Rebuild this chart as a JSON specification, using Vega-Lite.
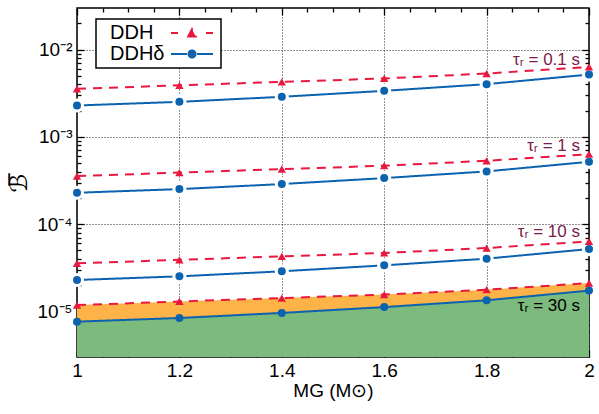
{
  "$schema": "https://vega.github.io/schema/vega-lite/v6.json",
  "autosize": "none",
  "width": 512,
  "height": 349,
  "padding": {"left": 77, "top": 8, "right": 10, "bottom": 57},
  "background": "white",
  "config": {
    "font": "Liberation Sans",
    "view": {"stroke": "black", "strokeWidth": 1.5},
    "axis": {"domain": false, "labelColor": "black", "labelFontSize": 19, "titleFontSize": 19, "titleFontWeight": "normal", "titleColor": "black", "tickColor": "black", "tickWidth": 1.3, "zindex": 1, "gridColor": "#222", "gridDash": [1, 2], "gridWidth": 1, "labelFlush": false, "labelOverlap": false}
  },
  "datasets": {
    "lines": [
      {"x": 1, "tau": 0.1, "series": "DDH", "v": 0.00355}, {"x": 1.2, "tau": 0.1, "series": "DDH", "v": 0.0039}, {"x": 1.4, "tau": 0.1, "series": "DDH", "v": 0.00427}, {"x": 1.6, "tau": 0.1, "series": "DDH", "v": 0.00467}, {"x": 1.8, "tau": 0.1, "series": "DDH", "v": 0.00532}, {"x": 2, "tau": 0.1, "series": "DDH", "v": 0.00633},
      {"x": 1, "tau": 0.1, "series": "DDHδ", "v": 0.00229}, {"x": 1.2, "tau": 0.1, "series": "DDHδ", "v": 0.00252}, {"x": 1.4, "tau": 0.1, "series": "DDHδ", "v": 0.00288}, {"x": 1.6, "tau": 0.1, "series": "DDHδ", "v": 0.00337}, {"x": 1.8, "tau": 0.1, "series": "DDHδ", "v": 0.00402}, {"x": 2, "tau": 0.1, "series": "DDHδ", "v": 0.00518},
      {"x": 1, "tau": 1, "series": "DDH", "v": 0.000355}, {"x": 1.2, "tau": 1, "series": "DDH", "v": 0.00039}, {"x": 1.4, "tau": 1, "series": "DDH", "v": 0.000427}, {"x": 1.6, "tau": 1, "series": "DDH", "v": 0.000467}, {"x": 1.8, "tau": 1, "series": "DDH", "v": 0.000532}, {"x": 2, "tau": 1, "series": "DDH", "v": 0.000633},
      {"x": 1, "tau": 1, "series": "DDHδ", "v": 0.000229}, {"x": 1.2, "tau": 1, "series": "DDHδ", "v": 0.000252}, {"x": 1.4, "tau": 1, "series": "DDHδ", "v": 0.000288}, {"x": 1.6, "tau": 1, "series": "DDHδ", "v": 0.000337}, {"x": 1.8, "tau": 1, "series": "DDHδ", "v": 0.000402}, {"x": 2, "tau": 1, "series": "DDHδ", "v": 0.000518},
      {"x": 1, "tau": 10, "series": "DDH", "v": 0.0000355}, {"x": 1.2, "tau": 10, "series": "DDH", "v": 0.000039}, {"x": 1.4, "tau": 10, "series": "DDH", "v": 0.0000427}, {"x": 1.6, "tau": 10, "series": "DDH", "v": 0.0000467}, {"x": 1.8, "tau": 10, "series": "DDH", "v": 0.0000532}, {"x": 2, "tau": 10, "series": "DDH", "v": 0.0000633},
      {"x": 1, "tau": 10, "series": "DDHδ", "v": 0.0000229}, {"x": 1.2, "tau": 10, "series": "DDHδ", "v": 0.0000252}, {"x": 1.4, "tau": 10, "series": "DDHδ", "v": 0.0000288}, {"x": 1.6, "tau": 10, "series": "DDHδ", "v": 0.0000337}, {"x": 1.8, "tau": 10, "series": "DDHδ", "v": 0.0000402}, {"x": 2, "tau": 10, "series": "DDHδ", "v": 0.0000518},
      {"x": 1, "tau": 30, "series": "DDH", "v": 0.0000118}, {"x": 1.2, "tau": 30, "series": "DDH", "v": 0.000013}, {"x": 1.4, "tau": 30, "series": "DDH", "v": 0.0000142}, {"x": 1.6, "tau": 30, "series": "DDH", "v": 0.0000156}, {"x": 1.8, "tau": 30, "series": "DDH", "v": 0.0000177}, {"x": 2, "tau": 30, "series": "DDH", "v": 0.0000211},
      {"x": 1, "tau": 30, "series": "DDHδ", "v": 0.00000763}, {"x": 1.2, "tau": 30, "series": "DDHδ", "v": 0.0000084}, {"x": 1.4, "tau": 30, "series": "DDHδ", "v": 0.0000096}, {"x": 1.6, "tau": 30, "series": "DDHδ", "v": 0.0000112}, {"x": 1.8, "tau": 30, "series": "DDHδ", "v": 0.0000134}, {"x": 2, "tau": 30, "series": "DDHδ", "v": 0.0000173}
    ],
    "labels": [
      {"x": 2, "y": 0.0066, "t": "τᵣ = 0.1 s", "k": "a"},
      {"x": 2, "y": 0.00068, "t": "τᵣ = 1 s", "k": "a"},
      {"x": 2, "y": 0.000071, "t": "τᵣ = 10 s", "k": "a"},
      {"x": 2, "y": 0.0000101, "t": "τᵣ = 30 s", "k": "b"}
    ]
  },
  "resolve": {"axis": {"x": "independent", "y": "independent"}},
  "layer": [
    {
      "data": {"name": "lines"},
      "transform": [{"filter": "datum.tau === 30 && datum.series === 'DDHδ'"}],
      "mark": {"type": "area", "color": "#7dba7d", "opacity": 1},
      "encoding": {
        "x": {"field": "x", "type": "quantitative", "scale": {"domain": [1, 2], "nice": false, "zero": false},
          "axis": {"orient": "bottom", "title": "MG (M⊙)", "titlePadding": 1,
            "values": [1, 1.2, 1.4, 1.6, 1.8, 2],
            "labelExpr": "toString(round(datum.value*10)/10)",
            "tickSize": -7, "grid": true, "labelPadding": 11}},
        "y": {"field": "v", "type": "quantitative", "scale": {"type": "log", "domain": [0.000003, 0.03], "nice": false},
          "axis": {"orient": "left", "title": "ℬ̅", "titleFont": "DejaVu Sans", "titleFontSize": 24, "titlePadding": 5, "titleAngle": 270,
            "values": [0.00001, 0.0001, 0.001, 0.01],
            "labelExpr": "'10⁻' + ['⁰','¹','²','³','⁴','⁵','⁶'][-round(log(datum.value)/LN10)]",
            "tickSize": -7, "grid": true, "labelPadding": 12}},
        "y2": {"datum": 0.000003}
      }
    },
    {
      "data": {"name": "lines"},
      "transform": [{"filter": "datum.tau === 30"}, {"pivot": "series", "value": "v", "groupby": ["x"]}],
      "mark": {"type": "area", "color": "#fdb347", "opacity": 1},
      "encoding": {
        "x": {"field": "x", "type": "quantitative",
          "axis": {"orient": "top", "title": null, "labels": false, "grid": false, "values": [1, 1.2, 1.4, 1.6, 1.8, 2], "tickSize": -7}},
        "y": {"field": "DDHδ", "type": "quantitative",
          "axis": {"orient": "right", "title": null, "labels": false, "grid": false, "values": [0.00001, 0.0001, 0.001, 0.01], "tickSize": -7}},
        "y2": {"field": "DDH"}
      }
    },
    {
      "data": {"name": "lines"},
      "mark": {"type": "line", "strokeWidth": 2},
      "encoding": {
        "x": {"field": "x", "type": "quantitative",
          "axis": {"orient": "bottom", "title": null, "labels": false, "grid": false, "tickSize": -4,
            "values": [1.05, 1.1, 1.15, 1.25, 1.3, 1.35, 1.45, 1.5, 1.55, 1.65, 1.7, 1.75, 1.85, 1.9, 1.95]}},
        "y": {"field": "v", "type": "quantitative",
          "axis": {"orient": "left", "title": null, "labels": false, "grid": false, "tickSize": -4,
            "values": [0.000004, 0.000005, 0.000006, 0.000007, 0.000008, 0.000009, 0.00002, 0.00003, 0.00004, 0.00005, 0.00006, 0.00007, 0.00008, 0.00009, 0.0002, 0.0003, 0.0004, 0.0005, 0.0006, 0.0007, 0.0008, 0.0009, 0.002, 0.003, 0.004, 0.005, 0.006, 0.007, 0.008, 0.009, 0.02]}},
        "detail": {"field": "tau"},
        "color": {"field": "series", "type": "nominal",
          "scale": {"domain": ["DDH", "DDHδ"], "range": ["#e8193f", "#0b63b0"]},
          "legend": {"title": null, "orient": "none", "legendX": 19, "legendY": 11, "padding": 4, "rowPadding": 1,
            "fillColor": "white", "strokeColor": "black", "labelFont": "Liberation Sans", "labelFontSize": 20, "labelColor": "black",
            "labelOffset": -10, "labelExpr": "' ' + datum.label", "symbolSize": 100, "symbolStrokeWidth": 2,
            "encode": {
              "legend": {"update": {"strokeWidth": {"value": 1.5}}},
              "symbols": {"update": {
                "shape": {"signal": "datum.value === 'DDH' ? 'M12.2,0H13.6M15.65,0.7L16.4,-0.75L17.15,0.7ZM19.2,0H20.6' : 'M12.2,0H15.4M17.4,0H20.6M15.7,0A0.7,0.7,0,1,1,17.1,0A0.7,0.7,0,1,1,15.7,0Z'"},
                "fill": {"signal": "datum.value === 'DDH' ? '#e8193f' : '#0b63b0'"},
                "stroke": {"signal": "datum.value === 'DDH' ? '#e8193f' : '#0b63b0'"},
                "strokeDash": {"value": [1, 0]},
                "strokeWidth": {"value": 2},
                "opacity": {"value": 1}
              }}
            }}},
        "strokeDash": {"field": "series", "type": "nominal", "scale": {"domain": ["DDH", "DDHδ"], "range": [[9, 7], [1, 0]]}, "legend": null}
      }
    },
    {
      "data": {"name": "lines"},
      "transform": [{"filter": "datum.series === 'DDHδ' && datum.tau !== 30"}],
      "mark": {"type": "point", "filled": true, "shape": "circle", "size": 200, "color": "white", "opacity": 1},
      "encoding": {
        "x": {"field": "x", "type": "quantitative",
          "axis": {"orient": "top", "title": null, "labels": false, "grid": false, "tickSize": -4,
            "values": [1.05, 1.1, 1.15, 1.25, 1.3, 1.35, 1.45, 1.5, 1.55, 1.65, 1.7, 1.75, 1.85, 1.9, 1.95]}},
        "y": {"field": "v", "type": "quantitative",
          "axis": {"orient": "right", "title": null, "labels": false, "grid": false, "tickSize": -4,
            "values": [0.000004, 0.000005, 0.000006, 0.000007, 0.000008, 0.000009, 0.00002, 0.00003, 0.00004, 0.00005, 0.00006, 0.00007, 0.00008, 0.00009, 0.0002, 0.0003, 0.0004, 0.0005, 0.0006, 0.0007, 0.0008, 0.0009, 0.002, 0.003, 0.004, 0.005, 0.006, 0.007, 0.008, 0.009, 0.02]}}
      }
    },
    {
      "data": {"name": "lines"},
      "transform": [{"filter": "datum.series === 'DDHδ'"}],
      "mark": {"type": "point", "filled": true, "shape": "circle", "size": 64, "color": "#0b63b0", "opacity": 1},
      "encoding": {
        "x": {"field": "x", "type": "quantitative", "axis": null},
        "y": {"field": "v", "type": "quantitative", "axis": null}
      }
    },
    {
      "data": {"name": "lines"},
      "transform": [{"filter": "datum.series === 'DDH'"}],
      "mark": {"type": "point", "filled": true, "shape": "triangle-up", "size": 70, "color": "#e8193f", "opacity": 1},
      "encoding": {
        "x": {"field": "x", "type": "quantitative", "axis": null},
        "y": {"field": "v", "type": "quantitative", "axis": null}
      }
    },
    {
      "data": {"name": "labels"},
      "mark": {"type": "text", "align": "right", "baseline": "alphabetic", "dx": -9, "fontSize": 17, "font": "Liberation Sans"},
      "encoding": {
        "x": {"field": "x", "type": "quantitative", "axis": null},
        "y": {"field": "y", "type": "quantitative", "axis": null},
        "text": {"field": "t"},
        "color": {"condition": {"test": "datum.k === 'b'", "value": "black"}, "value": "#7a1c4c"}
      }
    }
  ]
}
